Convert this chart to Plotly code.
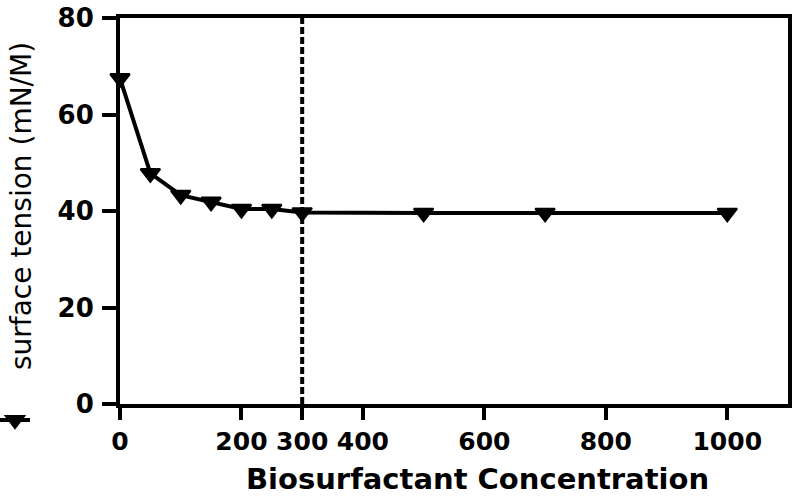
import plotly.graph_objects as go

concentration = [0, 50, 100, 150, 200, 250, 300, 500, 700, 1000]
surface_tension = [67.5, 47.8, 43.3, 41.9, 40.4, 40.4, 39.7, 39.6, 39.6, 39.6]
x_ticks = [0, 200, 300, 400, 600, 800, 1000]
y_ticks = [0, 20, 40, 60, 80]
cmc = 300
x_title = "Biosurfactant Concentration"
y_title = "surface tension (mN/M)"

W, H = 796, 504
L, R, T, B = 120, 8, 18, 100
pw, ph = W - L - R, H - T - B

def px_x(p):
    return (p - L) / pw

def px_y(p):
    return (H - B - p) / ph

fig = go.Figure()
fig.add_trace(go.Scatter(
    x=concentration, y=surface_tension, mode="lines+markers",
    name="", showlegend=True, cliponaxis=False,
    line=dict(color="black", width=4),
    marker=dict(symbol="triangle-down", size=17, color="black",
                line=dict(color="black", width=2)),
))

fig.add_shape(type="line", xref="x", yref="y", x0=cmc, x1=cmc, y0=0, y1=80,
              line=dict(color="black", width=4, dash="7px,3px"), layer="below")

fig.add_annotation(text=x_title, xref="paper", yref="paper",
                   x=px_x(478), y=px_y(479), xanchor="center", yanchor="middle",
                   showarrow=False,
                   font=dict(family="DejaVu Sans", size=29, color="black", weight="bold"))
fig.add_annotation(text=y_title, xref="paper", yref="paper", textangle=-90,
                   x=px_x(22), y=px_y(206), xanchor="center", yanchor="middle",
                   showarrow=False,
                   font=dict(family="DejaVu Sans", size=28, color="black"))

fig.update_layout(
    width=W, height=H,
    margin=dict(l=L, r=R, t=T, b=B, pad=0, autoexpand=False),
    paper_bgcolor="white", plot_bgcolor="white",
    showlegend=True,
    legend=dict(xref="container", yref="container", x=0, y=1 - 420 / H,
                xanchor="left", yanchor="middle", indentation=-5,
                bgcolor="rgba(0,0,0,0)", font=dict(size=10)),
    xaxis=dict(range=[0, 1100], tickvals=x_ticks, ticktext=[str(v) for v in x_ticks],
               automargin=False,
               showgrid=False, zeroline=False, showline=True, linecolor="black",
               linewidth=4, mirror=True, ticks="outside", ticklen=12, tickwidth=3.5,
               tickcolor="black", ticklabelstandoff=0,
               tickfont=dict(family="DejaVu Sans", size=25, color="black", weight="bold")),
    yaxis=dict(range=[0, 80], tickvals=y_ticks, automargin=False,
               showgrid=False, zeroline=False, showline=True, linecolor="black",
               linewidth=4, mirror=True, ticks="outside", ticklen=14, tickwidth=3.5,
               tickcolor="black", ticklabelstandoff=3,
               tickfont=dict(family="DejaVu Sans", size=26, color="black", weight="bold")),
)

fig.write_html("out.html", config={"displayModeBar": False},
               post_script="document.body.style.margin='0px';document.body.style.overflow='hidden';")
